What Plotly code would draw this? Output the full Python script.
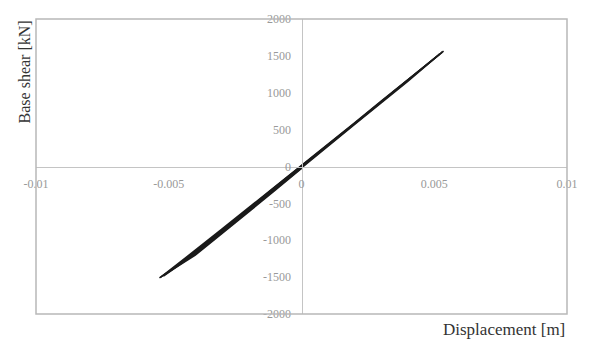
import plotly.graph_objects as go

# Hysteresis cycles (displacement [m], base shear [kN])
disp_c1 = [0, 0.0010, 0.0020, 0.0030, 0.0040, 0.00535, 0.0040, 0.0030, 0.0020, 0.0010, 0,
           -0.0010, -0.0020, -0.0030, -0.0040, -0.0053, -0.0040, -0.0030, -0.0020, -0.0010, 0]
shear_c1 = [0, 290, 580, 875, 1170, 1565, 1180, 885, 590, 300, 15,
            -270, -560, -850, -1135, -1500, -1160, -875, -590, -305, -15]

disp_c2 = [0, 0.0010, 0.0020, 0.0030, 0.0040, 0.0053, 0.0040, 0.0030, 0.0020, 0.0010, 0,
           -0.0010, -0.0020, -0.0030, -0.0040, -0.0052, -0.0040, -0.0030, -0.0020, -0.0010, 0]
shear_c2 = [-10, 285, 575, 868, 1162, 1550, 1175, 880, 585, 295, 10,
            -280, -575, -870, -1160, -1485, -1180, -895, -605, -315, -20]

disp_c3 = [0, 0.0010, 0.0020, 0.0030, 0.0040, 0.0052, 0.0040, 0.0030, 0.0020, 0.0010, 0,
           -0.0010, -0.0020, -0.0030, -0.0040, -0.00535, -0.0040, -0.0030, -0.0020, -0.0010, 0]
shear_c3 = [-20, 280, 570, 862, 1155, 1525, 1168, 875, 580, 290, 5,
            -285, -585, -885, -1180, -1510, -1200, -910, -620, -325, -25]

x_ticks = [-0.01, -0.005, 0, 0.005, 0.01]
x_tick_text = ["-0.01", "-0.005", "0", "0.005", "0.01"]
y_ticks = [-2000, -1500, -1000, -500, 0, 500, 1000, 1500, 2000]
y_tick_text = ["-2000", "-1500", "-1000", "-500", "0", "500", "1000", "1500", "2000"]

fig = go.Figure()
for dx, sy in [(disp_c1, shear_c1), (disp_c2, shear_c2), (disp_c3, shear_c3)]:
    fig.add_trace(go.Scatter(x=dx, y=sy, mode="lines",
                             line=dict(color="#1a1a1a", width=1.6),
                             showlegend=False, hoverinfo="skip"))

axis_font = dict(family="Liberation Serif", size=12, color="#999999")
fig.update_layout(
    width=590, height=342,
    margin=dict(l=36, r=18, t=14, b=28),
    paper_bgcolor="white", plot_bgcolor="white",
    xaxis=dict(range=[-0.01, 0.01], tickvals=x_ticks, ticktext=x_tick_text,
               showgrid=False, zeroline=False, showline=True, linecolor="#c4c4c4",
               linewidth=1, anchor="free", position=0.5, ticks="",
               ticklabelstandoff=6,
               tickfont=axis_font, domain=[0, 1]),
    yaxis=dict(range=[-2000, 2000], tickvals=y_ticks, ticktext=y_tick_text,
               showgrid=False, zeroline=False, showline=True, linecolor="#c4c4c4",
               linewidth=1, anchor="free", position=0.5, ticks="",
               ticklabelstandoff=8,
               tickfont=axis_font, domain=[0, 1]),
    shapes=[dict(type="rect", xref="paper", yref="paper", x0=0, y0=0, x1=1, y1=1,
                 line=dict(color="#b8b8b8", width=1.5))],
    annotations=[
        dict(text="Base shear [kN]", xref="paper", yref="paper", x=-0.022, y=0.82,
             textangle=-90, showarrow=False, xanchor="center", yanchor="middle",
             font=dict(family="Liberation Serif", size=16, color="#333333")),
        dict(text="Displacement [m]", xref="paper", yref="paper", x=1.0, y=-0.012,
             showarrow=False, xanchor="right", yanchor="top",
             font=dict(family="Liberation Serif", size=17, color="#333333")),
    ],
)

fig.write_html("out.html")
